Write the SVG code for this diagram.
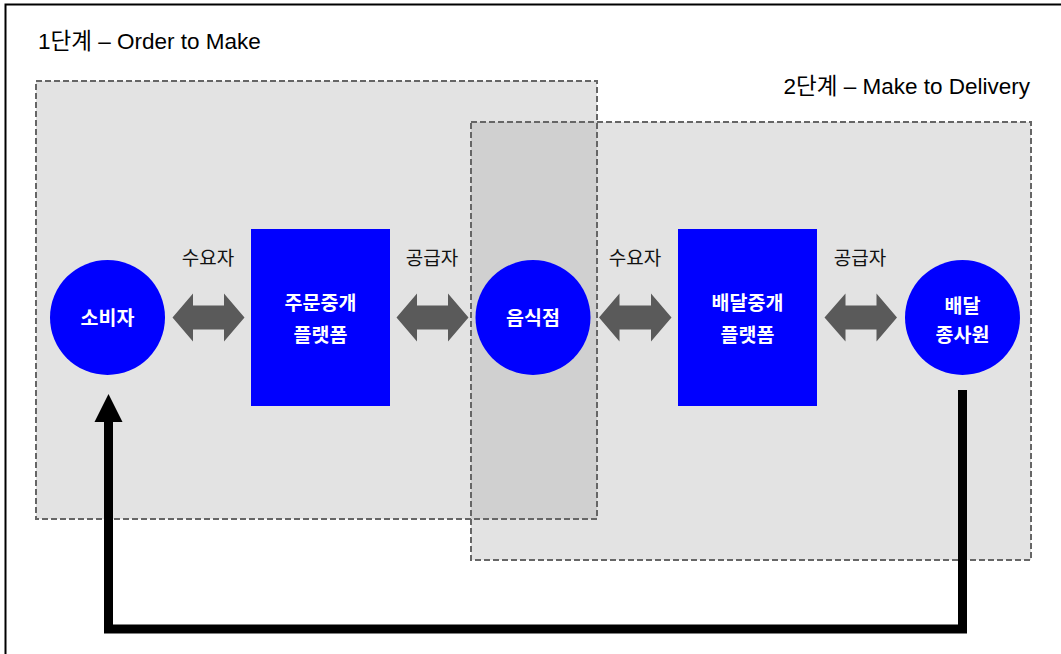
<svg xmlns="http://www.w3.org/2000/svg" width="1061" height="654" viewBox="0 0 1061 654">
<defs>
<style>
.grp{fill:#e3e3e3;}
.bd{fill:none;stroke:#666;stroke-width:2;stroke-dasharray:6 3;}
.node{fill:#0000ff;}
.nt{fill:#fff;font-family:"Liberation Sans","Noto Sans CJK KR",sans-serif;font-size:19.5px;font-weight:bold;text-anchor:middle;}
.lb{fill:#111;font-family:"Liberation Sans","Noto Sans CJK KR",sans-serif;font-size:19px;text-anchor:middle;}
.tt{fill:#000;font-family:"Liberation Sans","Noto Sans CJK KR",sans-serif;font-size:22.5px;}
.dbl{fill:#5a5a5a;}
</style>
</defs>
<rect x="0" y="0" width="1061" height="654" fill="#fff"/>
<path d="M5.5 654 V4.5 H1061" fill="none" stroke="#000" stroke-width="2"/>
<g id="stage1-group">
<rect class="grp" x="36" y="81" width="561" height="438"/>
</g>
<g id="stage2-group">
<rect class="grp" x="471" y="122" width="560" height="438"/>
<rect x="471" y="122" width="126" height="397" fill="#d0d0d0"/>
<rect class="bd" x="36" y="81" width="561" height="438"/>
<rect class="bd" x="471" y="122" width="560" height="438"/>
</g>
<text class="tt" x="38" y="49">1단계 – Order to Make</text>
<text class="tt" x="1030" y="94" text-anchor="end">2단계 – Make to Delivery</text>
<g id="connectors">
<polygon class="dbl" points="172.5,317.5 193,293.5 193,305.5 224,305.5 224,293.5 244.5,317.5 224,341.5 224,329.5 193,329.5 193,341.5"/>
<polygon class="dbl" points="396.5,317.5 417,293.5 417,305.5 448,305.5 448,293.5 468.5,317.5 448,341.5 448,329.5 417,329.5 417,341.5"/>
<polygon class="dbl" points="599,317.5 619.5,293.5 619.5,305.5 651,305.5 651,293.5 671.5,317.5 651,341.5 651,329.5 619.5,329.5 619.5,341.5"/>
<polygon class="dbl" points="824.5,317.5 845.5,293.5 845.5,305.5 876.5,305.5 876.5,293.5 897,317.5 876.5,341.5 876.5,329.5 845.5,329.5 845.5,341.5"/>
<path d="M962.5 390 V629 H108.5 V420" fill="none" stroke="#000" stroke-width="9"/>
<polygon points="108.5,394 94.5,422 122.5,422" fill="#000"/>
</g>
<text class="lb" x="208" y="265">수요자</text>
<text class="lb" x="432" y="265">공급자</text>
<text class="lb" x="635" y="265">수요자</text>
<text class="lb" x="860" y="265">공급자</text>
<g id="consumer">
<circle class="node" cx="107.5" cy="317.5" r="57.5"/>
<text class="nt" x="107.5" y="325">소비자</text>
</g>
<g id="order-platform">
<rect class="node" x="251" y="229" width="139" height="177"/>
<text class="nt" x="320.5" y="310">주문중개</text>
<text class="nt" x="320.5" y="342">플랫폼</text>
</g>
<g id="restaurant">
<circle class="node" cx="533" cy="317.5" r="57.5"/>
<text class="nt" x="533" y="325">음식점</text>
</g>
<g id="delivery-platform">
<rect class="node" x="678" y="229" width="139" height="177"/>
<text class="nt" x="747.5" y="310">배달중개</text>
<text class="nt" x="747.5" y="342">플랫폼</text>
</g>
<g id="delivery-worker">
<circle class="node" cx="962.5" cy="317.5" r="57.5"/>
<text class="nt" x="962.5" y="313">배달</text>
<text class="nt" x="962.5" y="342">종사원</text>
</g>
</svg>
